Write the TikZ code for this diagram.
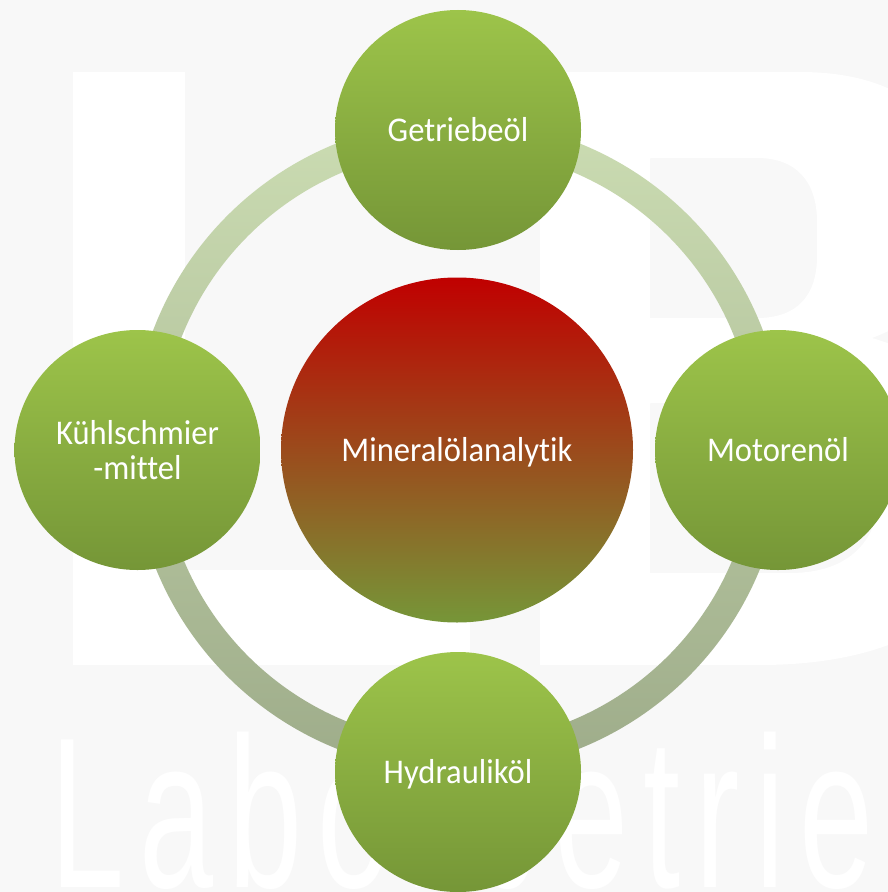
\documentclass[tikz,border=0pt]{standalone}
\usepackage{fontspec}
\usetikzlibrary{shapes.geometric}
\newfontfamily\labelfont[FakeStretch=0.94,Ligatures=NoCommon]{Carlito}
\newfontfamily\markfont[FakeStretch=0.62,LetterSpace=7.0,Ligatures=NoCommon]{Liberation Sans}
\definecolor{bg}{RGB}{248,248,248}
\definecolor{gtop}{RGB}{157,196,74}
\definecolor{gbot}{RGB}{117,150,55}
\definecolor{htop}{RGB}{192,0,0}
\definecolor{hbot}{RGB}{118,150,56}
\definecolor{rtop}{RGB}{203,220,178}
\definecolor{rbot}{RGB}{158,172,138}
\begin{document}
\begin{tikzpicture}[x=0.75pt,y=-0.75pt,
  bubble/.style={ellipse, inner sep=0pt, minimum width=184.5pt, minimum height=180pt,
    top color=gtop, bottom color=gbot, text=white, align=center,
    font=\labelfont\fontsize{26}{26.25}\selectfont},
  capcentered/.style={text height=16.7pt, text depth=0pt},
  hub/.style={ellipse, inner sep=0pt, minimum width=264pt, minimum height=258.75pt,
    top color=htop, bottom color=hbot, text=white,
    font=\labelfont\fontsize{26}{26.25}\selectfont},
  markletters/.style={anchor=base west, inner sep=0pt, text=white,
    font=\markfont\fontsize{161}{161}\selectfont}]
\useasboundingbox (0,0) rectangle (888,892);
\clip (0,0) rectangle (888,892);
\fill[bg] (0,0) rectangle (888,892);
% watermark L
\fill[white] (73,72) -- (185,72) -- (185,570) -- (470,570) -- (470,665) -- (73,665) -- cycle;
% watermark B
\fill[white, even odd rule]
 (540,72) -- (800,72) .. controls (930,72) and (965,150) .. (965,215)
   .. controls (965,280) and (925,318) .. (872,338)
   .. controls (955,362) and (995,425) .. (995,505)
   .. controls (995,610) and (900,665) .. (760,665) -- (540,665) -- cycle
 (650,158) -- (757,158) .. controls (797,158) and (817,182) .. (817,222) -- (817,256)
   .. controls (817,296) and (797,318) .. (757,318) -- (650,318) -- cycle
 (650,403) -- (790,403) .. controls (850,403) and (880,440) .. (880,488)
   .. controls (880,540) and (850,573) .. (790,573) -- (650,573) -- cycle;
\node[markletters] (mark) at (50,887) {Laborbetrie};
% ring
\path[top color=rtop, bottom color=rbot, even odd rule]
  (458,446) circle[radius=326] (458,446) circle[radius=297];
% nodes
\node[hub, capcentered] (hub) at (457,450) {Mineralölanalytik};
\node[bubble, capcentered] (top) at (458,130) {Getriebeöl};
\node[bubble, capcentered] (right) at (778,450) {Motorenöl};
\node[bubble, capcentered] (bottom) at (458,772) {Hydrauliköl};
\node[bubble] (left) at (137.5,450) {Kühlschmier\\-mittel};
\end{tikzpicture}
\end{document}
